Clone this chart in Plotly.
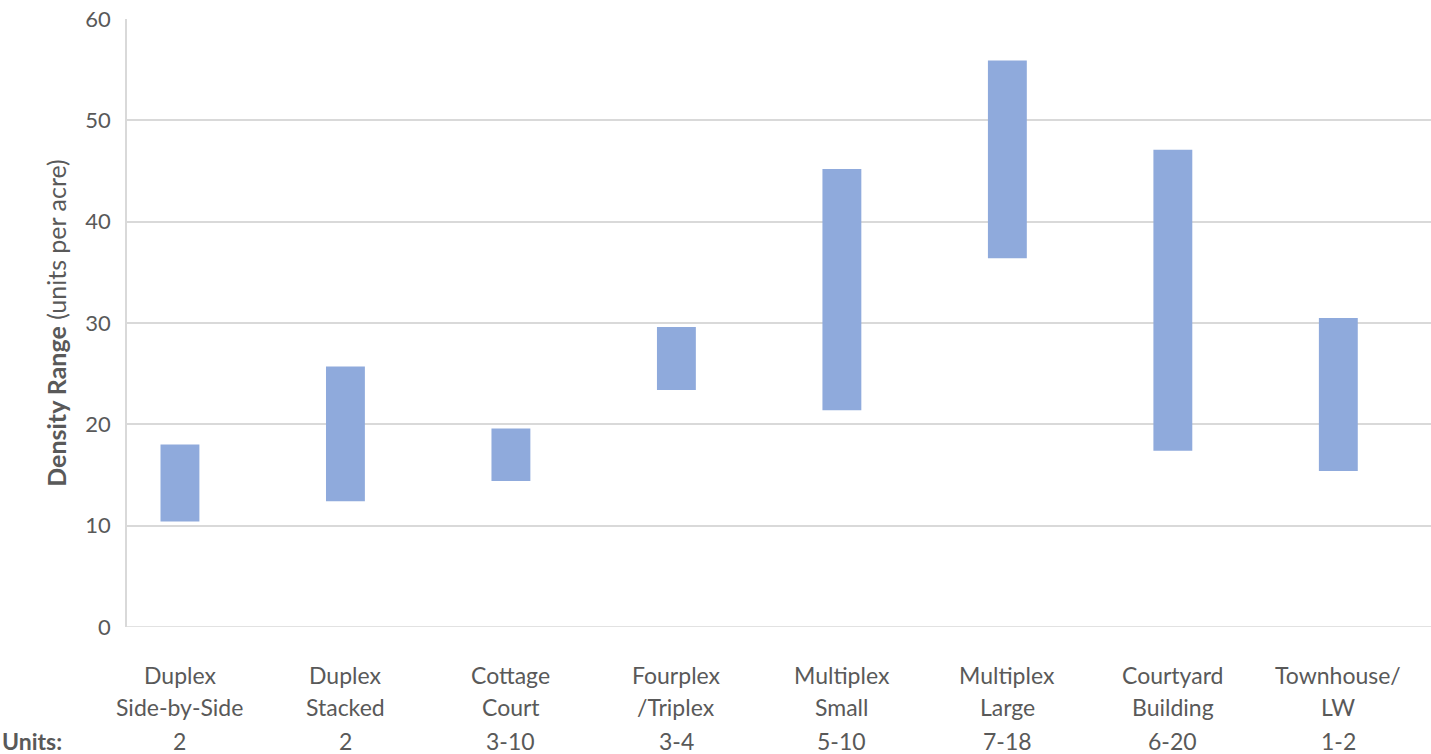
import plotly.graph_objects as go

categories = ["Duplex<br>Side-by-Side", "Duplex<br>Stacked", "Cottage<br>Court", "Fourplex<br>/Triplex",
              "Multiplex<br>Small", "Multiplex<br>Large", "Courtyard<br>Building", "Townhouse/<br>LW"]
units = ["2", "2", "3-10", "3-4", "5-10", "7-18", "6-20", "1-2"]
density_low = [10.4, 12.4, 14.4, 23.4, 21.4, 36.4, 17.4, 15.4]
density_high = [18.0, 25.7, 19.6, 29.6, 45.2, 55.9, 47.1, 30.5]

FONT = "Lato"
GREY = "#595959"
positions = list(range(len(categories)))

fig = go.Figure()
fig.add_trace(go.Bar(
    x=positions,
    y=[h - l for h, l in zip(density_high, density_low)],
    base=density_low,
    width=0.235,
    marker=dict(color="#8FAADC", line=dict(width=0)),
    hoverinfo="skip",
))

annotations = []
for i, (cat, u) in enumerate(zip(categories, units)):
    l1, l2 = cat.split("<br>")
    for txt, py in ((l1, 675), (l2, 707), (u, 741)):
        annotations.append(dict(
            x=i, xref="x", y=0, yref="paper", yshift=-(py - 627),
            text=txt, showarrow=False, xanchor="center", yanchor="middle",
            font=dict(family=FONT, size=23, color=GREY),
        ))
annotations.append(dict(
    x=0, xref="paper", xshift=-127, y=0, yref="paper", yshift=-(741 - 627),
    text="<b>Units:</b>", showarrow=False, xanchor="left", yanchor="middle",
    font=dict(family=FONT, size=23, color=GREY),
))

fig.update_layout(
    width=1431, height=754,
    margin=dict(l=127, r=0, t=19, b=127),
    paper_bgcolor="white", plot_bgcolor="white",
    showlegend=False,
    font=dict(family=FONT, color=GREY),
    xaxis=dict(range=[-0.32, 7.56], showticklabels=False, showgrid=False,
               zeroline=False, showline=False, ticks=""),
    yaxis=dict(range=[0, 60], dtick=10, tick0=0,
               showgrid=True, gridcolor="#D9D9D9", gridwidth=1.5,
               zeroline=False, showline=True, linecolor="#D9D9D9", linewidth=1.5,
               ticks="", ticklabelstandoff=10,
               tickfont=dict(family=FONT, size=22, color=GREY),
               title=dict(text="<b>Density Range</b> (units per acre)",
                          font=dict(family=FONT, size=25, color=GREY), standoff=12)),
    annotations=annotations,
)
fig.add_shape(type="line", xref="paper", yref="y", x0=0, x1=1, y0=0, y1=0,
              line=dict(color="#D9D9D9", width=1.5), layer="below")

fig.write_html("out.html", config={"displayModeBar": False},
               post_script="document.body.style.margin='0';document.body.style.padding='0';document.body.style.overflow='hidden';")
